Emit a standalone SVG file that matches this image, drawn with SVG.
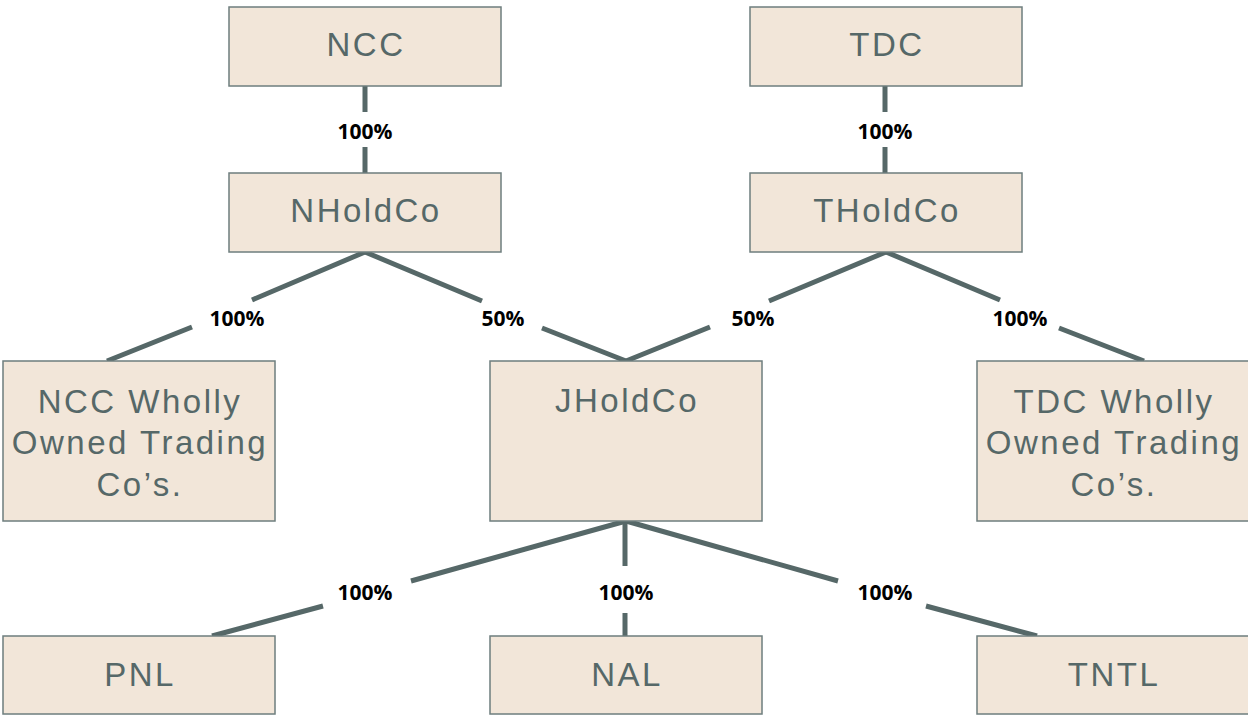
<svg xmlns="http://www.w3.org/2000/svg" width="1248" height="716" viewBox="0 0 1248 716">
  <style>
    .box { fill: #f2e6d9; stroke: #6e7e7e; stroke-width: 1.5; }
    .name { font-family: "Liberation Sans", Arial, sans-serif; font-size: 33px; fill: #566868; text-anchor: middle; letter-spacing: 2.5px; }
    .pct { font-family: "Open Sans", "Liberation Sans", sans-serif; font-size: 21px; font-weight: bold; fill: #000000; text-anchor: middle; }
    .link { stroke: #566868; stroke-width: 5; fill: none; }
  </style>
  <rect width="1248" height="716" fill="#ffffff"/>

  <!-- ownership connectors, broken around their percentage labels -->
  <g id="connectors">
    <path class="link" d="M365 86V112M365 147V173"/>
    <path class="link" d="M885 86V112M885 147V173"/>
    <path class="link" d="M365 252L252 300M192 327L107 361"/>
    <path class="link" d="M365 252L482 301M542 328L626 361"/>
    <path class="link" d="M886 252L769 301M710 327L626 361"/>
    <path class="link" d="M886 252L1000 300M1059 328L1144 361"/>
    <path class="link" d="M626 521L411 581M323 606L212 636"/>
    <path class="link" d="M625 521V566M625 613V636"/>
    <path class="link" d="M626 521L838 581M926 606L1037 636"/>
    <text class="pct" x="365" y="139">100%</text>
    <text class="pct" x="885" y="139">100%</text>
    <text class="pct" x="237" y="326">100%</text>
    <text class="pct" x="503" y="326">50%</text>
    <text class="pct" x="753" y="326">50%</text>
    <text class="pct" x="1020" y="326">100%</text>
    <text class="pct" x="365" y="600">100%</text>
    <text class="pct" x="626" y="600">100%</text>
    <text class="pct" x="885" y="600">100%</text>
  </g>

  <g id="ncc">
    <rect class="box" x="229" y="7" width="272" height="79"/>
    <text class="name" x="366" y="56">NCC</text>
  </g>
  <g id="tdc">
    <rect class="box" x="750" y="7" width="272" height="79"/>
    <text class="name" x="887" y="56">TDC</text>
  </g>
  <g id="nholdco">
    <rect class="box" x="229" y="173" width="272" height="79"/>
    <text class="name" x="366" y="222">NHoldCo</text>
  </g>
  <g id="tholdco">
    <rect class="box" x="750" y="173" width="272" height="79"/>
    <text class="name" x="887" y="222">THoldCo</text>
  </g>
  <g id="ncc-trading">
    <rect class="box" x="3" y="361" width="272" height="160"/>
    <text class="name" x="140" y="413">NCC Wholly</text>
    <text class="name" x="140" y="454">Owned Trading</text>
    <text class="name" x="140" y="496">Co’s.</text>
  </g>
  <g id="jholdco">
    <rect class="box" x="490" y="361" width="272" height="160"/>
    <text class="name" x="627" y="412">JHoldCo</text>
  </g>
  <g id="tdc-trading">
    <rect class="box" x="977" y="361" width="272" height="160"/>
    <text class="name" x="1114" y="413">TDC Wholly</text>
    <text class="name" x="1114" y="454">Owned Trading</text>
    <text class="name" x="1114" y="496">Co’s.</text>
  </g>
  <g id="pnl">
    <rect class="box" x="3" y="636" width="272" height="78"/>
    <text class="name" x="140" y="686">PNL</text>
  </g>
  <g id="nal">
    <rect class="box" x="490" y="636" width="272" height="78"/>
    <text class="name" x="627" y="686">NAL</text>
  </g>
  <g id="tntl">
    <rect class="box" x="977" y="636" width="272" height="78"/>
    <text class="name" x="1114" y="686">TNTL</text>
  </g>
</svg>
